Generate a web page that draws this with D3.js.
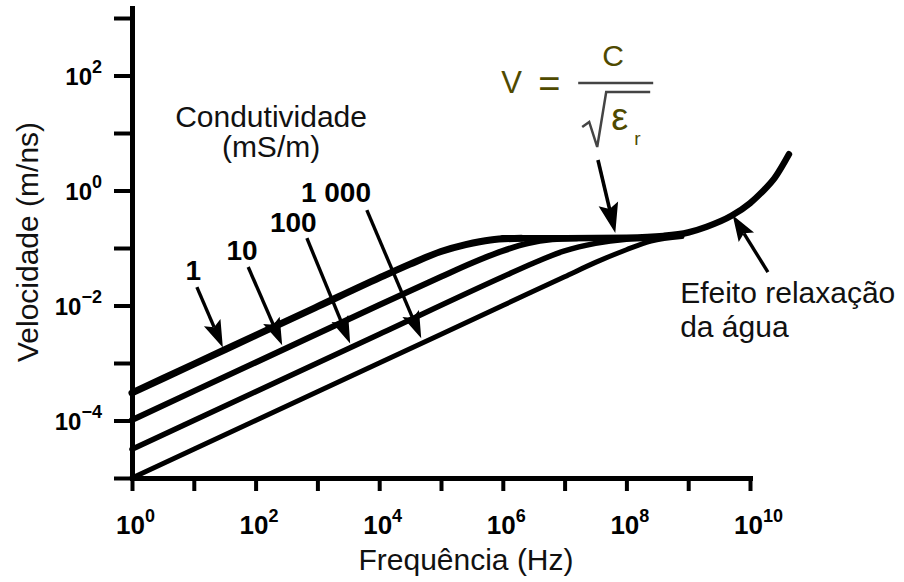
<!DOCTYPE html>
<meta charset="utf-8">
<style>
body { margin: 0; background: #fff; }
svg { display: block; font-family: "Liberation Sans", Arial, sans-serif; }
.curve { fill: none; stroke: #000; stroke-linecap: round; stroke-linejoin: round; }
.axis path { stroke: #000; stroke-width: 5px; stroke-linecap: square; }
.axis line { stroke: #000; stroke-width: 4px; }
.ticklab { font-weight: bold; fill: #000; }
.label { font-size: 30px; fill: #111; }
.formula { fill: #4f4a00; }
</style>
<svg width="904" height="582"></svg>
<script src="https://d3js.org/d3.v7.min.js"></script>
<script>

var svg = d3.select("svg");

// values, as log10 exponents: [frequency (Hz), velocity (m/ns)]
var conductivities = ["1", "10", "100", "1 000"];   // mS/m
var curve1    = [[0,-3.52],[1,-3.02],[2,-2.52],[3,-2.02],[4,-1.52],[4.5,-1.28],[5,-1.06],[5.4,-0.94],[5.8,-0.86],[6.3,-0.83]];
var curve10   = [[0,-3.99],[2,-2.99],[4,-1.99],[5,-1.5],[5.5,-1.26],[6,-1.05],[6.4,-0.92],[6.8,-0.85],[7.2,-0.83]];
var curve100  = [[0,-4.5],[2,-3.5],[4,-2.5],[6,-1.5],[6.5,-1.26],[7,-1.05],[7.5,-0.92],[8,-0.85],[8.4,-0.83]];
var curve1000 = [[0,-5.0],[2,-4.0],[4,-3.0],[6,-2.0],[7,-1.5],[7.5,-1.25],[8,-1.03],[8.4,-0.88],[8.9,-0.8]];
// common high frequency part (plateau c/sqrt(er) and water relaxation)
var highFreq  = [[6,-0.83],[7,-0.83],[8,-0.82],[8.6,-0.79],[9.0,-0.73],[9.3,-0.63],[9.7,-0.44],[10.0,-0.22],[10.2,-0.02],[10.4,0.22],[10.63,0.63]];

var xTickExp = d3.range(0, 11);
var xLabelExp = [0, 2, 4, 6, 8, 10];
var yTickExp = d3.range(-5, 4);
var yLabelExp = [-4, -2, 0, 2];

// arrows: label, tail, tip and label point, in the same log units
var curveArrows = [
  {text: conductivities[0], tail: [1.05,-1.68], tip: [1.47,-2.73], at: [0.99,-1.56]},
  {text: conductivities[1], tail: [1.88,-1.33], tip: [2.43,-2.69], at: [1.78,-1.21]},
  {text: conductivities[2], tail: [2.83,-0.83], tip: [3.53,-2.66], at: [2.61,-0.73]},
  {text: conductivities[3], tail: [3.80,-0.34], tip: [4.68,-2.57], at: [3.30,-0.20]}
];

var x = d3.scaleLog().domain([1, 1e10]).range([132, 750]);
var y = d3.scaleLog().domain([1e-5, Math.pow(10, 3.174)]).range([478, 8]);
var px = function(e) { return x(Math.pow(10, e)); };
var py = function(e) { return y(Math.pow(10, e)); };

var line = d3.line()
    .x(function(d) { return px(d[0]); })
    .y(function(d) { return py(d[1]); })
    .curve(d3.curveMonotoneX);

// axes
svg.append("g")
    .attr("class", "axis")
    .attr("transform", "translate(0," + y(1e-5) + ")")
    .call(d3.axisBottom(x).tickValues(xTickExp.map(function(e) { return Math.pow(10, e); }))
        .tickSize(13).tickSizeOuter(0).tickFormat(""));

svg.append("g")
    .attr("class", "axis")
    .attr("transform", "translate(" + x(1) + ",0)")
    .call(d3.axisLeft(y).tickValues(yTickExp.map(function(e) { return Math.pow(10, e); }))
        .tickSize(18).tickSizeOuter(0).tickFormat(""));

// tick labels 10^n
xLabelExp.forEach(function(e) {
  var t = svg.append("text").attr("class", "ticklab")
      .attr("x", px(e) - 16).attr("y", 534);
  t.append("tspan").attr("font-size", 26).text("10");
  t.append("tspan").attr("font-size", 18).attr("dy", -12).text(e);
});

yLabelExp.forEach(function(e) {
  var t = svg.append("text").attr("class", "ticklab")
      .attr("x", 102).attr("y", py(e) + 9).attr("text-anchor", "end");
  t.append("tspan").attr("font-size", 24).text("10");
  t.append("tspan").attr("font-size", 18).attr("dy", -12).text(e < 0 ? "\u2212" + (-e) : e);
});

svg.append("text").attr("class", "label")
    .attr("transform", "translate(38," + 242 + ") rotate(-90)")
    .attr("text-anchor", "middle")
    .text("Velocidade (m/ns)");

svg.append("text").attr("class", "label")
    .attr("x", 466).attr("y", 570)
    .attr("text-anchor", "middle")
    .text("Frequência (Hz)");

// curves
var curves = [curve1, curve10, curve100, curve1000];
var widths = [7, 6, 5.5, 5];
curves.forEach(function(c, i) {
  svg.append("path").attr("class", "curve")
      .attr("d", line(c))
      .attr("stroke-width", widths[i]);
});
svg.append("path").attr("class", "curve")
    .attr("d", line(highFreq))
    .attr("stroke-width", 6.5);

// arrows
function arrow(tail, tip, headLen, headW, sw) {
  var x0 = px(tail[0]), y0 = py(tail[1]), x1 = px(tip[0]), y1 = py(tip[1]);
  var dx = x1 - x0, dy = y1 - y0, L = Math.hypot(dx, dy), ux = dx / L, uy = dy / L;
  var bx = x1 - ux * headLen, by = y1 - uy * headLen;
  var nx = bx + ux * headLen * 0.18, ny = by + uy * headLen * 0.18;
  svg.append("line")
      .attr("x1", x0).attr("y1", y0).attr("x2", nx).attr("y2", ny)
      .attr("stroke", "#000").attr("stroke-width", sw);
  svg.append("path")
      .attr("d", "M" + x1 + "," + y1 +
                 "L" + (bx - uy * headW / 2) + "," + (by + ux * headW / 2) +
                 "L" + nx + "," + ny +
                 "L" + (bx + uy * headW / 2) + "," + (by - ux * headW / 2) + "Z")
      .attr("fill", "#000");
}

curveArrows.forEach(function(a) {
  arrow(a.tail, a.tip, 27, 18, 3.4);
  svg.append("text").attr("class", "ticklab")
      .attr("x", px(a.at[0])).attr("y", py(a.at[1]))
      .attr("text-anchor", "middle")
      .attr("font-size", 28)
      .text(a.text);
});

svg.append("text").attr("class", "label")
    .attr("x", px(2.25)).attr("y", py(1.10))
    .attr("text-anchor", "middle")
    .text("Condutividade");
svg.append("text").attr("class", "label")
    .attr("x", px(2.25)).attr("y", py(0.58))
    .attr("text-anchor", "middle")
    .text("(mS/m)");

// formula V = c / sqrt(er)
arrow([7.54, 0.53], [7.82, -0.74], 30, 20, 3.6);
var f = svg.append("g").attr("transform", "translate(" + px(7.22) + "," + py(1.87) + ")");
f.append("text").attr("class", "formula").attr("x", -77).attr("y", 10).attr("font-size", 31).text("V");
f.append("text").attr("class", "formula").attr("x", -40).attr("y", 14).attr("font-size", 38).text("=");
f.append("line").attr("x1", 0).attr("x2", 75).attr("y1", 0).attr("y2", 0)
    .attr("stroke", "#444").attr("stroke-width", 2.5);
f.append("text").attr("class", "formula").attr("x", 24).attr("y", -17).attr("font-size", 30).text("C");
f.append("path").attr("d", "M4,44L11,39L19,64L28,9L72,9")
    .attr("fill", "none").attr("stroke", "#444").attr("stroke-width", 2.5);
f.append("text").attr("class", "formula").attr("x", 33).attr("y", 47).attr("font-size", 38).text("\u03b5");
f.append("text").attr("class", "formula").attr("x", 56).attr("y", 62).attr("font-size", 19).text("r");

// water relaxation note
arrow([10.29, -1.42], [9.72, -0.43], 26, 18, 3.4);
svg.append("text").attr("class", "label")
    .attr("x", px(8.87)).attr("y", py(-1.96))
    .text("Efeito relaxação");
svg.append("text").attr("class", "label")
    .attr("x", px(8.87)).attr("y", py(-2.55))
    .text("da água");

</script>
